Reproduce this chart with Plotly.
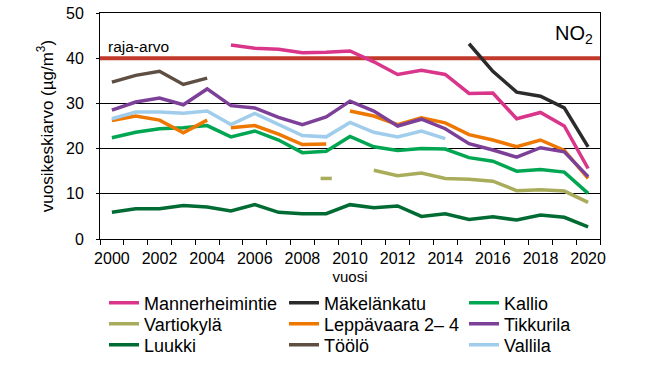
import plotly.graph_objects as go

years = list(range(2000, 2021))
tick_years = list(range(2000, 2021, 2))

mannerheimintie = [None]*5 + [42.9, 42.2, 42.0, 41.2, 41.3, 41.6, 39.2, 36.4, 37.3, 36.4,
                              32.2, 32.3, 26.6, 28.0, 25.0, 15.6]
makelankatu = [None]*15 + [43.2, 37.1, 32.5, 31.6, 29.0, 20.4]
kallio = [22.4, 23.6, 24.4, 24.6, 25.1, 22.6, 23.9, 21.9, 19.1, 19.4, 22.7,
          20.4, 19.6, 20.0, 19.9, 18.0, 17.2, 15.0, 15.4, 14.8, 10.1]
vartiokyla = [None]*9 + [13.4, None, 15.2, 14.0, 14.6, 13.4, 13.2, 12.8, 10.7, 10.9, 10.6, 8.1]
leppavaara = [26.2, 27.2, 26.3, 23.5, 26.3, 24.6, 25.1, 23.2, 20.9, 21.0, 28.3,
              27.2, 25.3, 26.8, 25.7, 23.1, 21.9, 20.4, 21.9, 19.6, 13.4]
leppavaara_station_changes = [2005, 2010]
tikkurila = [28.5, 30.3, 31.2, 29.7, 33.2, 29.5, 29.0, 26.9, 25.3, 27.0, 30.5,
             28.3, 25.0, 26.5, 24.4, 21.1, 19.7, 18.1, 20.2, 19.3, 13.8]
luukki = [5.9, 6.7, 6.7, 7.4, 7.1, 6.2, 7.6, 5.9, 5.6, 5.6, 7.6,
          6.9, 7.3, 5.0, 5.6, 4.3, 4.9, 4.2, 5.3, 4.8, 2.7]
toolo = [34.7, 36.2, 37.1, 34.2, 35.6] + [None]*16
vallila = [26.6, 28.1, 28.1, 27.8, 28.3, 25.3, 27.8, 25.4, 22.9, 22.6, 25.8,
           23.6, 22.6, 23.9, 22.2] + [None]*6
raja_arvo = 40

series = [
    ("Mannerheimintie", mannerheimintie, "#D9358B", []),
    ("Mäkelänkatu", makelankatu, "#2B2B2B", []),
    ("Kallio", kallio, "#00A651", []),
    ("Vartiokylä", vartiokyla, "#A9AC5B", []),
    ("Leppävaara 2\u2013 4", leppavaara, "#EE7700", leppavaara_station_changes),
    ("Tikkurila", tikkurila, "#7D4098", []),
    ("Luukki", luukki, "#006B33", []),
    ("Töölö", toolo, "#5F4E42", []),
    ("Vallila", vallila, "#A0CDEB", []),
]

FONT = "Liberation Sans, Arial, sans-serif"
fig = go.Figure()

# limit value line
fig.add_trace(go.Scatter(x=[years[0] - 0.5, years[-1] + 0.5], y=[raja_arvo, raja_arvo],
                         mode="lines", line=dict(color="#C0392B", width=4),
                         showlegend=False, hoverinfo="skip"))

# legend layout: 3 columns x 3 rows
col_text_x = [146, 326, 506]
row_y = [303, 324, 345]

def px_to_paper_x(px):
    return (px - 100) / 500.0

def px_to_paper_y(py):
    return (239 - py) / 226.0

for i, (name, vals, color, breaks) in enumerate(series):
    xs, ys = [], []
    for yr, v in zip(years, vals):
        if yr in breaks:
            xs.append(None); ys.append(None)
        xs.append(yr); ys.append(v)
    lg = "legend" if i == 0 else f"legend{i+1}"
    fig.add_trace(go.Scatter(x=xs, y=ys, mode="lines", name=name,
                             line=dict(color=color, width=3.5),
                             legend=lg, connectgaps=False))
    # isolated points (no neighbours) drawn as short dashes
    iso_x, iso_y = [], []
    for k in range(len(ys)):
        if ys[k] is None:
            continue
        left = ys[k-1] if k > 0 else None
        right = ys[k+1] if k < len(ys) - 1 else None
        if left is None and right is None:
            iso_x.append(xs[k]); iso_y.append(ys[k])
    if iso_x:
        fig.add_trace(go.Scatter(x=iso_x, y=iso_y, mode="markers", showlegend=False,
                                 marker=dict(symbol="line-ew", size=8,
                                             line=dict(color=color, width=3.5)),
                                 hoverinfo="skip"))
    r, c = divmod(i, 3)
    fig.update_layout(**{lg: dict(x=px_to_paper_x(col_text_x[c] - 42), y=px_to_paper_y(row_y[r]),
                                  xanchor="left", yanchor="middle",
                                  bgcolor="rgba(0,0,0,0)",
                                  font=dict(family=FONT, size=18, color="black"))})

fig.update_layout(
    width=656, height=369,
    margin=dict(l=100, r=56, t=13, b=130, autoexpand=False),
    paper_bgcolor="white", plot_bgcolor="white",
    font=dict(family=FONT, color="black"),
    xaxis=dict(range=[1999.5, 2020.5], tickmode="array", tickvals=tick_years,
               ticktext=[str(y) for y in tick_years],
               ticks="outside", ticklen=5, tickcolor="rgba(0,0,0,0)",
               minor=dict(tickmode="array", tickvals=[y - 0.5 for y in years] + [years[-1] + 0.5],
                          ticks="outside", ticklen=5, tickcolor="black", tickwidth=1, showgrid=False),
               showgrid=False, zeroline=False,
               showline=True, linecolor="black", linewidth=1, mirror=True,
               tickfont=dict(size=16),
               title=dict(text="vuosi", font=dict(size=15), standoff=5)),
    yaxis=dict(range=[0, 50], tickmode="linear", tick0=0, dtick=10,
               ticks="outside", ticklen=3, tickcolor="black", ticklabelstandoff=9,
               showgrid=True, gridcolor="black", gridwidth=1, zeroline=False,
               showline=True, linecolor="black", linewidth=1, mirror=True,
               tickfont=dict(size=16),
               title=dict(text="vuosikeskiarvo (µg/m<sup>3</sup>)", font=dict(size=17), standoff=8)),
    annotations=[
        dict(text="raja-arvo", x=1999.75, y=42.7, xref="x", yref="y",
             xanchor="left", yanchor="middle", showarrow=False, font=dict(size=15.5)),
        dict(text="NO<sub>2</sub>", x=px_to_paper_x(595), y=px_to_paper_y(34), xref="paper", yref="paper",
             xanchor="right", yanchor="middle", showarrow=False, font=dict(size=20)),
    ],
)

fig.write_html("out.html", config={"displayModeBar": False},
               post_script="document.body.style.margin='0';document.body.style.overflow='hidden';")
